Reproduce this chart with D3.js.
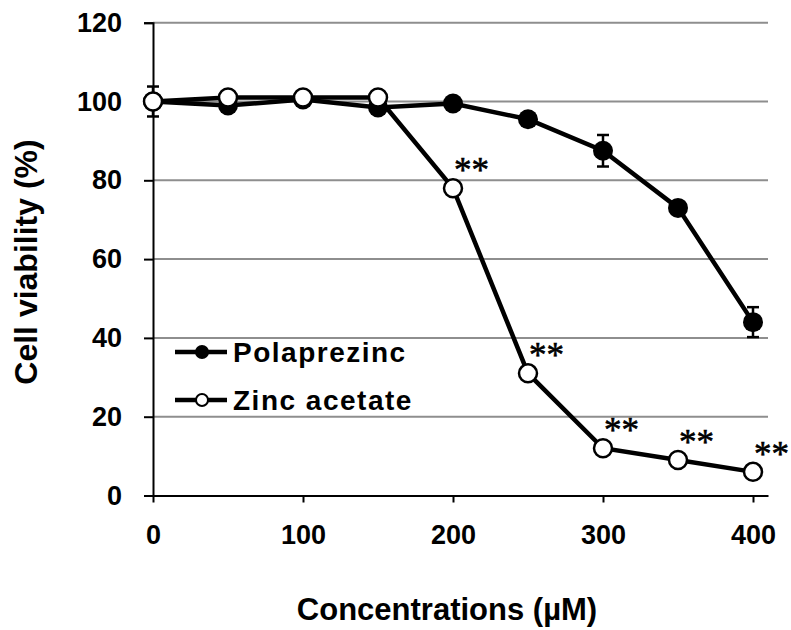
<!DOCTYPE html>
<meta charset="utf-8">
<script src="https://d3js.org/d3.v7.min.js"></script>
<style>
  body { margin: 0; background: #fff; }
</style>
<div id="chart"></div>
<script>
// data
var conc = [0, 50, 100, 150, 200, 250, 300, 350, 400];
var polaprezinc = [100, 99, 100.5, 98.5, 99.5, 95.5, 87.5, 73, 44];
var polaprezincErr = [3.8, 0, 0, 0, 0, 0, 4, 0, 3.8];
var zincAcetate = [100, 101, 101, 101, 78, 31, 12, 9, 6];
var zincMarks = ["", "", "", "", "**", "**", "**", "**", "**"];
var yTicks = [0, 20, 40, 60, 80, 100, 120];
var xTicks = [0, 100, 200, 300, 400];
var seriesNames = ["Polaprezinc", "Zinc acetate"];

var width = 791, height = 630;
var sans = "'Liberation Sans', Arial, sans-serif";

var svg = d3.select("#chart").append("svg")
  .attr("width", width)
  .attr("height", height);

// scales
var x = d3.scaleLinear().domain([0, 410]).range([153, 768]);
var y = d3.scaleLinear().domain([0, 120]).range([495.5, 22.7]);

// gridlines
svg.append("g")
  .selectAll("line")
  .data(yTicks.filter(function(d) { return d > 0; }))
  .enter().append("line")
    .attr("x1", x(0)).attr("x2", x(410))
    .attr("y1", function(d) { return y(d); })
    .attr("y2", function(d) { return y(d); })
    .attr("stroke", "#8e8e8e")
    .attr("stroke-width", 2);

// y axis
var yAxis = svg.append("g")
  .attr("transform", "translate(" + x(0) + ",0)")
  .call(d3.axisLeft(y).tickValues(yTicks).tickSize(9).tickPadding(22));
yAxis.select(".domain").attr("stroke-width", 2);
yAxis.selectAll(".tick line").attr("stroke-width", 2);
yAxis.selectAll(".tick text")
  .style("font-size", "27px")
  .style("font-family", sans)
  .style("font-weight", "bold");

// x axis
var xAxis = svg.append("g")
  .attr("transform", "translate(0," + y(0) + ")")
  .call(d3.axisBottom(x).tickValues(xTicks).tickSize(7).tickSizeOuter(0).tickPadding(22));
xAxis.select(".domain").attr("stroke-width", 2);
xAxis.selectAll(".tick line").attr("stroke-width", 2);
xAxis.selectAll(".tick text")
  .style("font-size", "27px")
  .style("font-family", sans)
  .style("font-weight", "bold");

// axis titles
svg.append("text")
  .attr("transform", "translate(37,262) rotate(-90)")
  .attr("text-anchor", "middle")
  .style("font-family", sans)
  .style("font-weight", "bold")
  .style("font-size", "32px")
  .text("Cell viability (%)");

svg.append("text")
  .attr("x", 447)
  .attr("y", 620)
  .attr("text-anchor", "middle")
  .style("font-family", sans)
  .style("font-weight", "bold")
  .style("font-size", "31px")
  .text("Concentrations (\u00b5M)");

var line = d3.line()
  .x(function(d) { return x(d[0]); })
  .y(function(d) { return y(d[1]); });

// Polaprezinc
var pData = conc.map(function(c, i) { return [c, polaprezinc[i], polaprezincErr[i]]; });
svg.append("path")
  .datum(pData)
  .attr("d", line)
  .attr("fill", "none")
  .attr("stroke", "#000")
  .attr("stroke-width", 4.5);

var err = svg.append("g").selectAll("g")
  .data(pData.filter(function(d) { return d[2] > 0; }))
  .enter().append("g")
    .attr("stroke", "#000")
    .attr("stroke-width", 2.5);
err.append("line")
  .attr("x1", function(d) { return x(d[0]); })
  .attr("x2", function(d) { return x(d[0]); })
  .attr("y1", function(d) { return y(d[1] - d[2]); })
  .attr("y2", function(d) { return y(d[1] + d[2]); });
err.append("line")
  .attr("x1", function(d) { return x(d[0]) - 6; })
  .attr("x2", function(d) { return x(d[0]) + 6; })
  .attr("y1", function(d) { return y(d[1] + d[2]); })
  .attr("y2", function(d) { return y(d[1] + d[2]); });
err.append("line")
  .attr("x1", function(d) { return x(d[0]) - 6; })
  .attr("x2", function(d) { return x(d[0]) + 6; })
  .attr("y1", function(d) { return y(d[1] - d[2]); })
  .attr("y2", function(d) { return y(d[1] - d[2]); });

svg.append("g").selectAll("circle")
  .data(pData)
  .enter().append("circle")
    .attr("cx", function(d) { return x(d[0]); })
    .attr("cy", function(d) { return y(d[1]); })
    .attr("r", 10)
    .attr("fill", "#000");

// Zinc acetate
var zData = conc.map(function(c, i) { return [c, zincAcetate[i], zincMarks[i]]; });
svg.append("path")
  .datum(zData)
  .attr("d", line)
  .attr("fill", "none")
  .attr("stroke", "#000")
  .attr("stroke-width", 4.5);

svg.append("g").selectAll("circle")
  .data(zData)
  .enter().append("circle")
    .attr("cx", function(d) { return x(d[0]); })
    .attr("cy", function(d) { return y(d[1]); })
    .attr("r", 9)
    .attr("fill", "#fff")
    .attr("stroke", "#000")
    .attr("stroke-width", 2.5);

// significance marks
svg.append("g").selectAll("text")
  .data(zData.filter(function(d) { return d[2]; }))
  .enter().append("text")
    .attr("x", function(d) { return x(d[0]) + 1; })
    .attr("y", function(d) { return y(d[1]) - 6; })
    .style("font-family", "'Liberation Serif', 'Times New Roman', serif")
    .style("font-weight", "normal")
    .style("font-size", "35px")
    .style("stroke", "#000")
    .style("stroke-width", 0.6)
    .text(function(d) { return d[2]; });

// legend
var legend = svg.append("g").selectAll("g")
  .data(seriesNames)
  .enter().append("g")
    .attr("transform", function(d, i) { return "translate(175," + (352 + i * 48) + ")"; });
legend.append("line")
  .attr("x1", 0).attr("x2", 52)
  .attr("stroke", "#000")
  .attr("stroke-width", 4.5);
legend.append("circle")
  .attr("cx", 27)
  .attr("r", function(d, i) { return i === 0 ? 7 : 6; })
  .attr("fill", function(d, i) { return i === 0 ? "#000" : "#fff"; })
  .attr("stroke", "#000")
  .attr("stroke-width", function(d, i) { return i === 0 ? 0 : 2; });
legend.append("text")
  .attr("x", 58)
  .attr("dy", "0.36em")
  .style("font-family", sans)
  .style("font-weight", "bold")
  .style("font-size", "28px")
  .style("letter-spacing", "1.5px")
  .text(function(d) { return d; });
</script>
